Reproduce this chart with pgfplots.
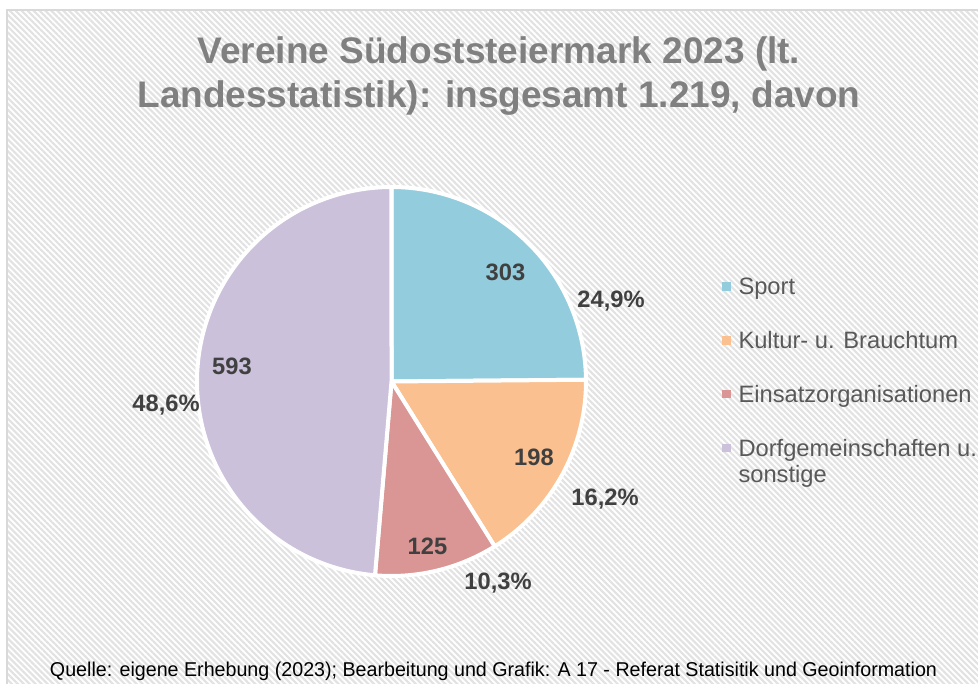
\documentclass[border=0pt]{standalone}
\usepackage{fontspec}
\setmainfont{Liberation Sans}
\usepackage{graphicx}
\usepackage{pgfplots}
\usepackage{pgfplotstable}
\pgfplotsset{compat=1.18}
\usetikzlibrary{patterns.meta}
\definecolor{cSport}{HTML}{93CDDD}
\definecolor{cKultur}{HTML}{FAC090}
\definecolor{cEinsatz}{HTML}{D99694}
\definecolor{cDorf}{HTML}{CCC1DA}
\definecolor{cLabel}{HTML}{404040}
\definecolor{cTitle}{HTML}{808080}
\definecolor{cLegend}{HTML}{595959}
\definecolor{cStripe}{HTML}{E2E2E2}
\definecolor{cFrame}{HTML}{D9D9D9}

\pgfplotstableread{
cat value
Sport 303
Kultur 198
Einsatz 125
Dorf 593
}\vereine
\pgfplotstablegetelem{0}{value}\of\vereine\edef\vA{\pgfplotsretval}%
\pgfplotstablegetelem{1}{value}\of\vereine\edef\vB{\pgfplotsretval}%
\pgfplotstablegetelem{2}{value}\of\vereine\edef\vC{\pgfplotsretval}%
\pgfplotstablegetelem{3}{value}\of\vereine\edef\vD{\pgfplotsretval}%
\pgfmathsetmacro{\total}{\vA+\vB+\vC+\vD}%
\pgfmathsetmacro{\unitang}{360/\total}%
\pgfmathsetmacro{\aA}{90-\unitang*\vA}%
\pgfmathsetmacro{\aB}{\aA-\unitang*\vB}%
\pgfmathsetmacro{\aC}{\aB-\unitang*\vC}%
\pgfmathsetmacro{\aD}{\aC-\unitang*\vD}%
\def\cx{391.5}\def\cy{-381.5}\def\R{194.5}

\begin{document}
\begin{tikzpicture}
\begin{axis}[
  width=978pt, height=684pt, scale only axis,
  xmin=0, xmax=978, ymin=-684, ymax=0,
  hide axis, clip=true,
  legend style={at={(axis cs:722,-278)}, anchor=north west, draw=none, fill=none,
    inner sep=0pt, outer sep=0pt, row sep=31.7pt, column sep=8pt,
    font=\fontsize{23.7}{26.5}\selectfont\color{cLegend},
    cells={anchor=base west},
    nodes={inner sep=0pt, outer sep=0pt, text height=17pt, text depth=5pt}},
  legend image code/.code={\fill[#1,draw=none] (0pt,4pt) rectangle (8.5pt,12.5pt);},
]
% background
\fill[white] (axis cs:0,0) rectangle (axis cs:978,-684);
\fill[pattern={Lines[angle=-45,distance=4.2pt,line width=2.1pt]}, pattern color=cStripe]
  (axis cs:7,-10) rectangle (axis cs:978,-684);
\draw[cFrame, line width=2pt] (axis cs:7,-684) -- (axis cs:7,-10) -- (axis cs:978,-10);

\addplot[fill=cSport, draw=white, line width=4pt, line join=round, domain=\aA:90, samples=90, variable=\t]
  ({\cx+\R*cos(\t)},{\cy+\R*sin(\t)}) -- (axis cs:\cx,\cy) -- cycle;
\addlegendentry{Sport}
\addplot[fill=cKultur, draw=white, line width=4pt, line join=round, domain=\aB:\aA, samples=60, variable=\t]
  ({\cx+\R*cos(\t)},{\cy+\R*sin(\t)}) -- (axis cs:\cx,\cy) -- cycle;
\addlegendentry{Kultur- u. Brauchtum}
\addplot[fill=cEinsatz, draw=white, line width=4pt, line join=round, domain=\aC:\aB, samples=40, variable=\t]
  ({\cx+\R*cos(\t)},{\cy+\R*sin(\t)}) -- (axis cs:\cx,\cy) -- cycle;
\addlegendentry{Einsatzorganisationen}
\addplot[fill=cDorf, draw=white, line width=4pt, line join=round, domain=\aD:\aC, samples=150, variable=\t]
  ({\cx+\R*cos(\t)},{\cy+\R*sin(\t)}) -- (axis cs:\cx,\cy) -- cycle;
\addlegendentry{\begin{tabular}[t]{@{}l@{}}Dorfgemeinschaften u.\\sonstige\end{tabular}}

% title
\node[anchor=base, font=\bfseries\fontsize{37}{44}\selectfont, text=cTitle] at (axis cs:499,-64) {Vereine Südoststeiermark 2023 (lt.};
\node[anchor=base, font=\bfseries\fontsize{37}{44}\selectfont, text=cTitle] at (axis cs:499,-108) {Landesstatistik): insgesamt 1.219, davon};

% data labels
\begin{scope}[every node/.style={anchor=base, font=\bfseries\fontsize{23.7}{26}\selectfont, text=cLabel, inner sep=0pt}]
\node at (axis cs:505.5,-281) {303};
\node at (axis cs:611,-308) {24,9\%};
\node at (axis cs:534,-466) {198};
\node at (axis cs:605,-506) {16,2\%};
\node at (axis cs:427.5,-555) {125};
\node at (axis cs:498,-590) {10,3\%};
\node at (axis cs:232,-375) {593};
\node at (axis cs:166,-412) {48,6\%};
\end{scope}

% source
\node[anchor=base, inner sep=0pt] at (axis cs:493.5,-677)
  {\resizebox{887pt}{\height}{\fontsize{20}{22}\selectfont Quelle: eigene Erhebung (2023); Bearbeitung und Grafik: A 17 - Referat Statisitik und Geoinformation}};
\end{axis}
\pgfresetboundingbox
\path (0pt,0pt) rectangle (978pt,684pt);
\end{tikzpicture}
\end{document}
